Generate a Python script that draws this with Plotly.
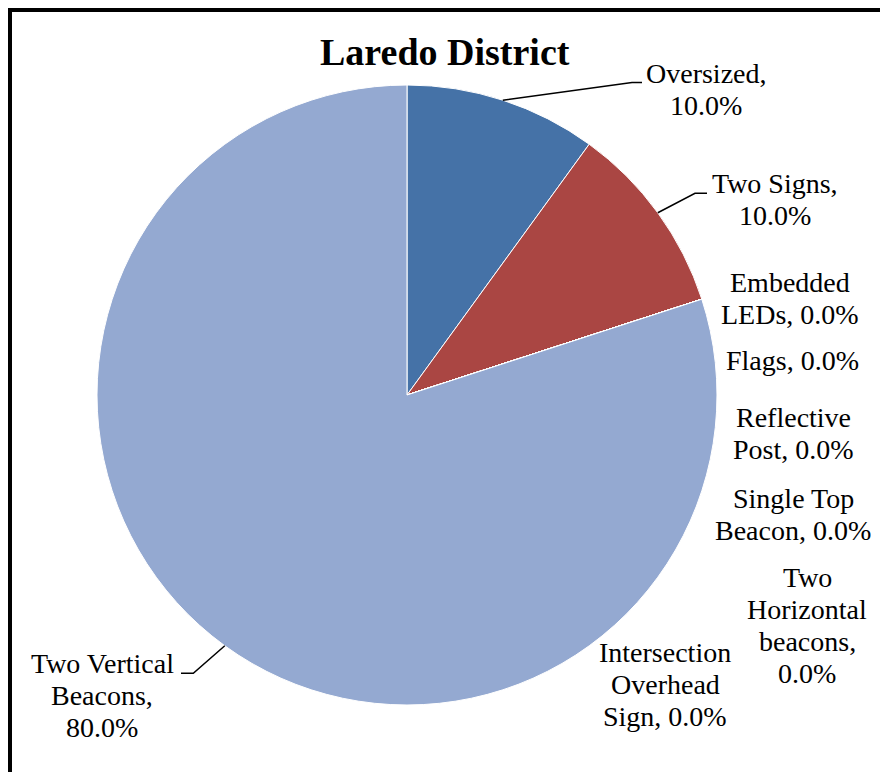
import math
import plotly.graph_objects as go

# Laredo District: share of each treatment type (percent)
categories = [
    "Oversized", "Two Signs", "Embedded LEDs", "Flags", "Reflective Post",
    "Single Top Beacon", "Two Horizontal beacons", "Intersection Overhead Sign",
    "Two Vertical Beacons",
]
shares = [10.0, 10.0, 0.0, 0.0, 0.0, 0.0, 0.0, 0.0, 80.0]
slice_colors = ["#4572A7", "#AA4643", "#89A54E", "#71588F", "#4198AF",
                "#DB843D", "#93A9CF", "#D19392", "#94A9D1"]

W, H = 880, 772
FONT = "Liberation Serif, Times New Roman, serif"
FS = 28
LINE_GAP = 32

# pie geometry in pixels
CX, CY, R = 407, 395, 310

def px(x):
    return x / W

def py(y):
    return 1 - y / H

# label layout: how each category's name wraps, and where its label sits
# (centre x, first-line baseline y, leader elbow, leader end)
label_layout = {
    "Oversized": (["Oversized,"], "<br>", 706, 83, (632, 82.5), (642, 82.5)),
    "Two Signs": (["Two Signs,"], "<br>", 775, 193, (695, 193.3), (707, 193.3)),
    "Embedded LEDs": (["Embedded", "LEDs,"], " ", 790, 292, None, None),
    "Flags": (["Flags,"], " ", 792, 370, None, None),
    "Reflective Post": (["Reflective", "Post,"], " ", 793, 427, None, None),
    "Single Top Beacon": (["Single Top", "Beacon,"], " ", 793, 508, None, None),
    "Two Horizontal beacons": (["Two", "Horizontal", "beacons,"], "<br>", 807, 587, None, None),
    "Intersection Overhead Sign": (["Intersection", "Overhead", "Sign,"], " ", 665, 662, None, None),
    "Two Vertical Beacons": (["Two Vertical", "Beacons,"], "<br>", 102, 673, (193.3, 673.3), (181, 673.3)),
}

fig = go.Figure()
fig.add_trace(go.Pie(
    labels=categories,
    values=shares,
    sort=False,
    direction="clockwise",
    rotation=0,
    textinfo="none",
    marker=dict(colors=slice_colors, line=dict(color="white", width=1)),
    domain=dict(x=[px(CX - R), px(CX + R)], y=[py(CY + R), py(CY - R)]),
    showlegend=False,
    hoverinfo="label+percent",
))

annotations = []
shapes = []

total = sum(shares)
cum = 0.0
for name, val in zip(categories, shares):
    mid = (cum + val / 2) / total * 2 * math.pi
    cum += val
    lines, sep, lx, ly, elbow, end = label_layout[name]
    pct = f"{val / total * 100:.1f}%"
    if sep == "<br>":
        text_lines = lines + [pct]
    else:
        text_lines = lines[:-1] + [lines[-1] + " " + pct]
    for i, t in enumerate(text_lines):
        base = ly + i * LINE_GAP
        annotations.append(dict(
            x=px(lx), y=py(base - 0.35 * FS), xref="paper", yref="paper",
            text=t, showarrow=False, xanchor="center", yanchor="middle",
            font=dict(family=FONT, size=FS, color="black"),
        ))
    if elbow is not None:
        sx = CX + R * math.sin(mid)
        sy = CY - R * math.cos(mid)
        path = (f"M {px(sx)} {py(sy)} L {px(elbow[0])} {py(elbow[1])} "
                f"L {px(end[0])} {py(end[1])}")
        shapes.append(dict(type="path", xref="paper", yref="paper", path=path,
                           line=dict(color="black", width=1.5)))

# title
annotations.append(dict(
    x=px(445), y=py(52), xref="paper", yref="paper",
    text="<b>Laredo District</b>", showarrow=False,
    xanchor="center", yanchor="middle",
    font=dict(family=FONT, size=38, color="black"),
))

# chart frame
shapes.append(dict(type="rect", xref="paper", yref="paper",
                   x0=px(10), x1=px(W + 20), y0=py(H + 20), y1=py(10),
                   line=dict(color="black", width=4), fillcolor="rgba(0,0,0,0)"))

fig.update_layout(
    width=W, height=H,
    margin=dict(l=0, r=0, t=0, b=0),
    paper_bgcolor="white",
    plot_bgcolor="white",
    annotations=annotations,
    shapes=shapes,
)

fig.write_html("out.html")
